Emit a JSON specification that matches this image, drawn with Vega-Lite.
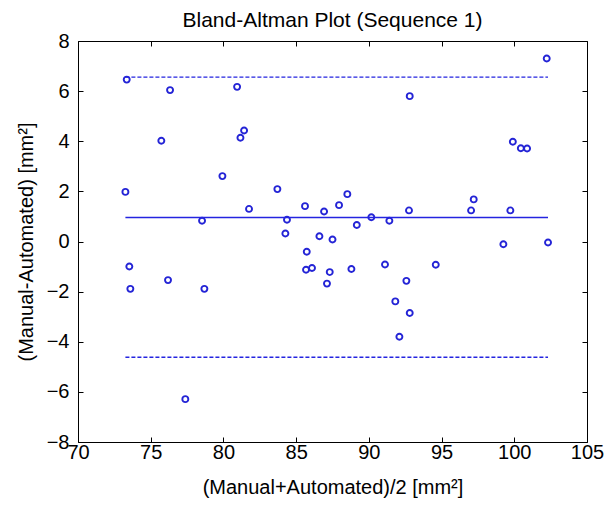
{
  "$schema": "https://vega.github.io/schema/vega-lite/v6.json",
  "width": 509,
  "height": 401,
  "autosize": "none",
  "padding": {"left": 78, "top": 41, "right": 19, "bottom": 64},
  "background": "white",
  "title": {"text": "Bland-Altman Plot (Sequence 1)", "font": "Liberation Sans", "fontSize": 21, "fontWeight": "normal", "color": "#000000", "offset": 0},
  "config": {
    "view": {"stroke": "#000000", "strokeWidth": 1},
    "axis": {"domain": false, "grid": false, "tickColor": "#000000", "tickSize": -5, "labelFlush": false, "labelFont": "Liberation Sans", "labelFontSize": 20, "labelColor": "#000000", "titleFont": "Liberation Sans", "titleFontSize": 20, "titleFontWeight": "normal", "titleColor": "#000000"}
  },
  "resolve": {"axis": {"x": "independent", "y": "independent"}},
  "layer": [
    {
      "data": {"values": [
        {"x": 73.35, "y": 6.46}, {"x": 76.33, "y": 6.04}, {"x": 75.73, "y": 4.02}, {"x": 80.94, "y": 6.17},
        {"x": 81.42, "y": 4.43}, {"x": 81.17, "y": 4.14}, {"x": 79.93, "y": 2.61}, {"x": 73.26, "y": 1.98},
        {"x": 83.71, "y": 2.09}, {"x": 81.76, "y": 1.30}, {"x": 85.61, "y": 1.41}, {"x": 86.92, "y": 1.20},
        {"x": 87.95, "y": 1.45}, {"x": 78.53, "y": 0.83}, {"x": 84.37, "y": 0.87}, {"x": 84.26, "y": 0.32},
        {"x": 86.6, "y": 0.21}, {"x": 87.5, "y": 0.08}, {"x": 102.23, "y": 7.30}, {"x": 92.81, "y": 5.80},
        {"x": 99.9, "y": 3.98}, {"x": 100.45, "y": 3.72}, {"x": 100.88, "y": 3.71}, {"x": 88.52, "y": 1.89},
        {"x": 89.17, "y": 0.66}, {"x": 90.17, "y": 0.97}, {"x": 91.41, "y": 0.83}, {"x": 92.76, "y": 1.24},
        {"x": 97.03, "y": 1.24}, {"x": 97.21, "y": 1.68}, {"x": 99.73, "y": 1.24}, {"x": 102.32, "y": -0.04},
        {"x": 73.53, "y": -1.0}, {"x": 73.6, "y": -1.89}, {"x": 76.19, "y": -1.54}, {"x": 78.69, "y": -1.89},
        {"x": 77.38, "y": -6.29}, {"x": 85.73, "y": -0.41}, {"x": 85.68, "y": -1.13}, {"x": 86.09, "y": -1.06},
        {"x": 87.31, "y": -1.22}, {"x": 87.12, "y": -1.68}, {"x": 99.25, "y": -0.11}, {"x": 88.8, "y": -1.1},
        {"x": 91.11, "y": -0.92}, {"x": 94.6, "y": -0.93}, {"x": 92.58, "y": -1.57}, {"x": 91.82, "y": -2.39},
        {"x": 92.81, "y": -2.85}, {"x": 92.1, "y": -3.8}
      ]},
      "mark": {"type": "point", "shape": "circle", "filled": false, "size": 36, "strokeWidth": 1.9, "color": "#2424d6", "opacity": 1},
      "encoding": {
        "x": {"field": "x", "type": "quantitative", "scale": {"domain": [70, 105], "nice": false, "zero": false}, "axis": {"orient": "bottom", "values": [70, 75, 80, 85, 90, 95, 100, 105], "labelPadding": 5, "title": "(Manual+Automated)/2 [mm²]", "titlePadding": 15}},
        "y": {"field": "y", "type": "quantitative", "scale": {"domain": [-8, 8], "nice": false, "zero": false}, "axis": {"orient": "left", "values": [-8, -6, -4, -2, 0, 2, 4, 6, 8], "labelPadding": 14, "title": "(Manual-Automated) [mm²]", "titlePadding": 10}}
      }
    },
    {
      "data": {"values": [
        {"x1": 73.26, "x2": 102.32, "y": 0.96, "kind": "mean"},
        {"x1": 73.26, "x2": 102.32, "y": 6.56, "kind": "upper"},
        {"x1": 73.26, "x2": 102.32, "y": -4.62, "kind": "lower"}
      ]},
      "mark": {"type": "rule", "color": "#2424e0", "strokeWidth": 1.4},
      "encoding": {
        "x": {"field": "x1", "type": "quantitative", "scale": {"domain": [70, 105], "nice": false, "zero": false}, "axis": {"orient": "top", "values": [70, 75, 80, 85, 90, 95, 100, 105], "labels": false, "title": null}},
        "x2": {"field": "x2"},
        "y": {"field": "y", "type": "quantitative", "scale": {"domain": [-8, 8], "nice": false, "zero": false}, "axis": {"orient": "right", "values": [-8, -6, -4, -2, 0, 2, 4, 6, 8], "labels": false, "title": null}},
        "strokeDash": {"field": "kind", "type": "nominal", "scale": {"domain": ["mean", "upper", "lower"], "range": [[1, 0], [4, 2], [4, 2]]}, "legend": null}
      }
    }
  ]
}
